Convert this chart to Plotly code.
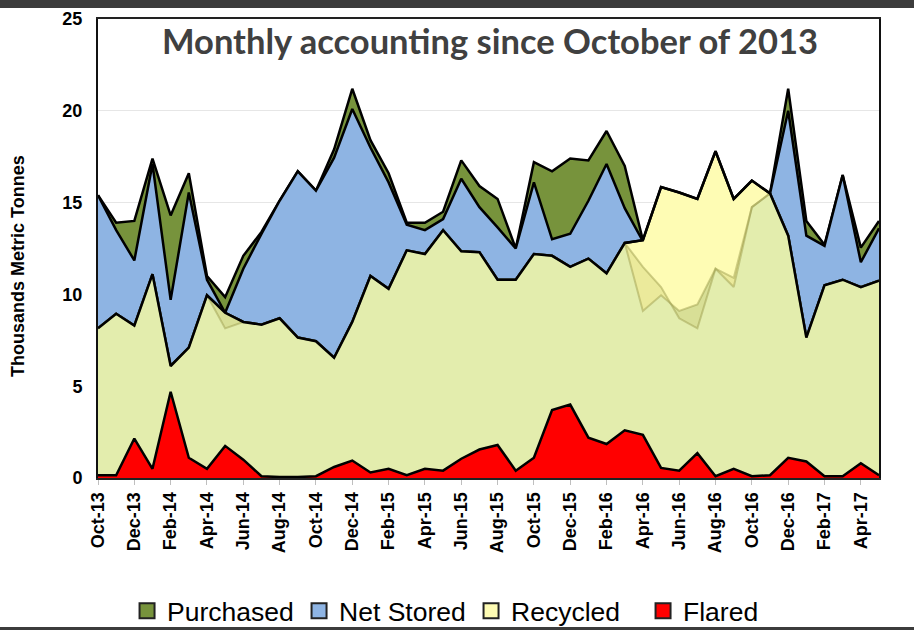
import plotly.graph_objects as go

# Month categories (Excel-style labels)
months = ["Oct-13", "Nov-13", "Dec-13",
          "Jan-14", "Feb-14", "Mar-14", "Apr-14", "May-14", "Jun-14",
          "Jul-14", "Aug-14", "Sep-14", "Oct-14", "Nov-14", "Dec-14",
          "Jan-15", "Feb-15", "Mar-15", "Apr-15", "May-15", "Jun-15",
          "Jul-15", "Aug-15", "Sep-15", "Oct-15", "Nov-15", "Dec-15",
          "Jan-16", "Feb-16", "Mar-16", "Apr-16", "May-16", "Jun-16",
          "Jul-16", "Aug-16", "Sep-16", "Oct-16", "Nov-16", "Dec-16",
          "Jan-17", "Feb-17", "Mar-17", "Apr-17", "May-17"]

# Upper edge of each overlapping area (thousand metric tonnes)
purchased = [15.4, 13.9, 14.0, 17.4, 14.3, 16.6, 11.0, 9.85, 12.1, 13.4, 15.1,
             16.7, 15.65, 17.9, 21.2, 18.4, 16.6, 13.9, 13.9, 14.5, 17.3, 15.9,
             15.2, 12.5, 17.2, 16.7, 17.4, 17.3, 18.9, 17.0, 12.95, 9.95, 9.1,
             9.45, 11.4, 10.4, 14.75, 15.5, 21.2, 14.0, 12.7, 16.5, 12.55, 14.0]

net_stored = [15.4, 13.5, 11.85, 17.1, 9.7, 15.55, 10.8, 9.0, 11.4, 13.3, 15.1,
              16.7, 15.65, 17.45, 20.1, 18.0, 16.1, 13.8, 13.5, 14.1, 16.3, 14.75,
              13.65, 12.5, 16.1, 13.0, 13.3, 15.1, 17.1, 14.7, 12.9, 9.95, 9.1,
              9.45, 11.4, 10.4, 14.75, 15.5, 20.0, 13.2, 12.65, 16.5, 11.75, 13.6]

recycled = [8.15, 8.95, 8.3, 11.1, 6.1, 7.1, 9.95, 9.0, 8.5, 8.35, 8.7,
            7.65, 7.45, 6.55, 8.5, 11.0, 10.3, 12.4, 12.2, 13.5, 12.35, 12.3,
            10.8, 10.8, 12.2, 12.1, 11.5, 11.95, 11.15, 12.8, 12.95, 15.85, 15.55,
            15.2, 17.8, 15.2, 16.2, 15.5, 13.2, 7.65, 10.5, 10.8, 10.4, 10.75]

recycled_base = [8.15, 8.95, 8.3, 11.1, 6.1, 7.1, 9.95, 9.0, 8.5, 8.35, 8.7,
                 7.65, 7.45, 6.55, 8.5, 11.0, 10.3, 12.4, 12.2, 13.5, 12.35, 12.3,
                 10.8, 10.8, 12.2, 12.1, 11.5, 11.95, 11.15, 12.8, 9.1, 9.95, 9.1,
                 9.45, 11.4, 10.4, 14.75, 15.5, 13.2, 7.65, 10.5, 10.8, 10.4, 10.75]

recycled_band = [8.15, 8.95, 8.3, 11.1, 6.1, 7.1, 9.95, 8.15, 8.5, 8.35, 8.7,
                 7.65, 7.45, 6.55, 8.5, 11.0, 10.3, 12.4, 12.2, 13.5, 12.35, 12.3,
                 10.8, 10.8, 12.2, 12.1, 11.5, 11.95, 11.15, 12.8, 11.5, 10.4, 8.7,
                 8.15, 11.4, 10.9, 14.75, 15.5, 13.2, 7.65, 10.5, 10.8, 10.4, 10.75]

flared = [0.15, 0.15, 2.15, 0.5, 4.7, 1.1, 0.5, 1.75, 1.0, 0.1, 0.05,
          0.05, 0.1, 0.6, 0.95, 0.3, 0.5, 0.15, 0.5, 0.4, 1.05, 1.55,
          1.8, 0.4, 1.1, 3.7, 4.0, 2.2, 1.85, 2.6, 2.35, 0.55, 0.4,
          1.35, 0.1, 0.5, 0.1, 0.15, 1.1, 0.9, 0.1, 0.1, 0.8, 0.15]

tick_labels = months[::2]

GREEN = "#77933C"
BLUE = "#8EB4E3"
YELLOW = "#FEFCB4"
PALE = "#E3EDAD"
RED = "#FF0000"
EDGE = dict(color="black", width=2.5)
FAINT = dict(color="rgba(150,150,70,0.45)", width=2)

fig = go.Figure()

def area(y, fillcolor, line, fill="tozeroy"):
    fig.add_trace(go.Scatter(x=months, y=y, mode="lines", fill=fill,
                             fillcolor=fillcolor, line=line,
                             showlegend=False, hoverinfo="skip"))

area(purchased, GREEN, EDGE)
area(net_stored, BLUE, EDGE)
area(recycled, YELLOW, EDGE)
area(recycled_base, PALE, FAINT)
area(recycled_band, "rgba(185,185,90,0.28)", FAINT, fill="tonexty")
fig.add_trace(go.Scatter(x=months, y=recycled, mode="lines", line=EDGE,
                         showlegend=False, hoverinfo="skip"))
area(flared, RED, EDGE)

# Square legend swatches
for name, color in [("Purchased", GREEN), ("Net Stored", BLUE),
                    ("Recycled", YELLOW), ("Flared", RED)]:
    fig.add_trace(go.Scatter(x=[None], y=[None], mode="markers", name=name,
                             marker=dict(symbol="square", size=15, color=color,
                                         line=dict(color="#222", width=2))))

fig.update_layout(
    width=914, height=630,
    margin=dict(l=98, r=35, t=19, b=152, autoexpand=False),
    paper_bgcolor="white", plot_bgcolor="white",
    showlegend=True,
    legend=dict(orientation="h", traceorder="normal",
                xref="container", yref="container",
                x=0.139, xanchor="left", y=0.03, yanchor="middle",
                itemwidth=30, entrywidth=127, entrywidthmode="pixels",
                font=dict(family="Liberation Sans, Arial", size=26.5, color="black"),
                bgcolor="rgba(0,0,0,0)"),
    annotations=[
        dict(text="Monthly accounting since October of 2013", x=0.502, y=0.954,
             xref="paper", yref="paper", showarrow=False,
             xanchor="center", yanchor="middle",
             font=dict(family="Lato", size=34.5, color="#404040", weight="bold")),
        dict(text="Thousands Metric Tonnes", x=-0.1024, y=0.462,
             xref="paper", yref="paper", showarrow=False, textangle=-90,
             xanchor="center", yanchor="middle",
             font=dict(family="Liberation Sans, Arial", size=18, color="black",
                       weight="bold")),
    ],
    shapes=[
        dict(type="rect", xref="paper", yref="paper", x0=-0.13, x1=1.05,
             y0=1.024, y1=1.05, fillcolor="#3C3C3C", line=dict(width=0)),
        dict(type="rect", xref="paper", yref="paper", x0=-0.13, x1=1.05,
             y0=-0.34, y1=-0.3246, fillcolor="#3C3C3C", line=dict(width=0)),
    ],
)

fig.update_xaxes(
    type="category", range=[0, len(months) - 1], automargin=False,
    tickmode="array", tickvals=tick_labels, ticktext=tick_labels,
    tickangle=-90, ticks="outside", ticklen=5, tickcolor="#BFBFBF",
    tickfont=dict(family="Liberation Sans, Arial", size=18, color="black",
                  weight="bold"),
    showgrid=False, showline=True, linecolor="#222", linewidth=2, mirror=True,
)
fig.update_yaxes(
    range=[0, 25], dtick=5, ticks="", ticklabelstandoff=10, automargin=False,
    tickfont=dict(family="Liberation Sans, Arial", size=18, color="black",
                  weight="bold"),
    showgrid=True, gridcolor="#E6E6E6", gridwidth=1, zeroline=False,
    showline=True, linecolor="#111", linewidth=2, mirror=True,
)

fig.write_html("out.html")
